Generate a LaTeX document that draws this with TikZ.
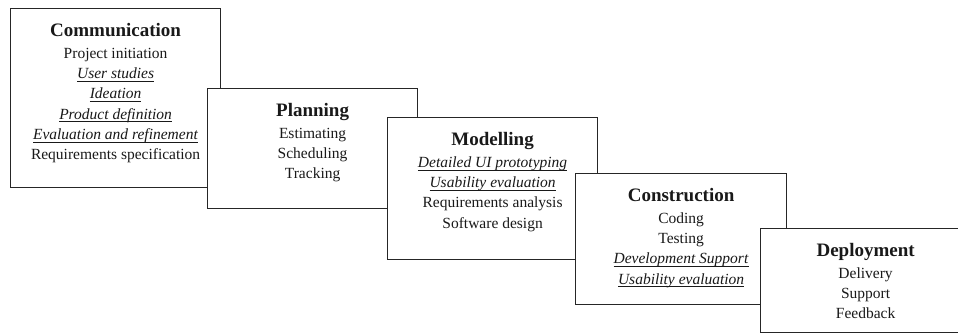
\documentclass[tikz,border=0pt]{standalone}
\usepackage{fontspec}
\setmainfont{Liberation Serif}
\usetikzlibrary{positioning}

\tikzset{
  phase/.style={draw=black!85, line width=1.2pt, fill=white, rectangle,
    anchor=north west, minimum width=210pt, inner sep=0pt},
  phasetext/.style={anchor=north, align=center, inner sep=0pt, text=black!90,
    font=\fontsize{15.5}{20.3}\selectfont},
}
\newsavebox{\ucdbox}
\newcommand{\phasename}[1]{{\fontsize{19}{20}\selectfont\bfseries #1}\\[1.5pt]}
\newcommand{\ucdtask}[1]{\sbox{\ucdbox}{\textit{#1}}%
  \rlap{\rule[-3pt]{\wd\ucdbox}{0.6pt}}\usebox{\ucdbox}}

\begin{document}
\begin{tikzpicture}[x=1pt,y=-1pt]
\clip (0,0) rectangle (958,335);

% communication
\node[phase, minimum height=179pt] (comm) at (10,8) {};
\node[phasetext] (commtext) at ([yshift=-15pt]comm.north) {\phasename{Communication}
  Project initiation\\ \ucdtask{User studies}\\ \ucdtask{Ideation}\\
  \ucdtask{Product definition}\\ \ucdtask{Evaluation and refinement}\\
  Requirements specification};

% planning
\node[phase, minimum height=120pt] (plan) at (207,88) {};
\node[phasetext] (plantext) at ([yshift=-15pt]plan.north) {\phasename{Planning}
  Estimating\\ Scheduling\\ Tracking};

% modelling
\node[phase, minimum height=142pt] (model) at (387,117) {};
\node[phasetext] (modeltext) at ([yshift=-15pt]model.north) {\phasename{Modelling}
  \ucdtask{Detailed UI prototyping}\\ \ucdtask{Usability evaluation}\\
  Requirements analysis\\ Software design};

% construction
\node[phase, minimum height=131pt, minimum width=211pt] (constr) at (575,173) {};
\node[phasetext] (constrtext) at ([yshift=-15pt]constr.north) {\phasename{Construction}
  Coding\\ Testing\\ \ucdtask{Development Support}\\ \ucdtask{Usability evaluation}};

% deployment
\node[phase, minimum height=104pt] (deploy) at (760,228) {};
\node[phasetext] (deploytext) at ([yshift=-15pt]deploy.north) {\phasename{Deployment}
  Delivery\\ Support\\ Feedback};

\end{tikzpicture}
\end{document}
